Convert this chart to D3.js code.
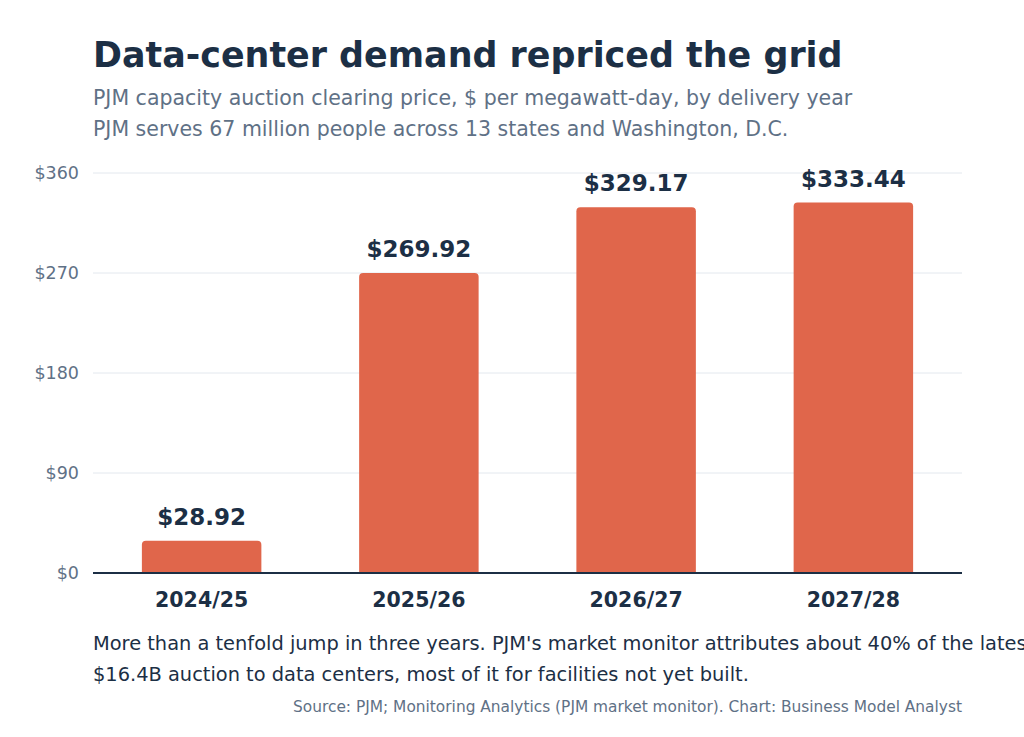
<!DOCTYPE html>
<html>
<head>
<meta charset="utf-8">
<script src="https://cdn.jsdelivr.net/npm/d3@7"></script>
<style>
  body { margin: 0; background: #fff; }
  svg { font-family: "DejaVu Sans", sans-serif; }
</style>
</head>
<body>
<div id="chart"></div>
<script>
const WIDTH = 1024;
const HEIGHT = 737;
const BAR_COLOR = "#e0664b";
const DARK = "#1c2f45";
const MUTED = "#5f7186";

const years = ["2024/25", "2025/26", "2026/27", "2027/28"];
const prices = [28.92, 269.92, 329.17, 333.44];
const yTicks = [0, 90, 180, 270, 360];

const margin = { top: 173, left: 93, right: 62, bottom: 164 };
const innerW = WIDTH - margin.left - margin.right;
const innerH = HEIGHT - margin.top - margin.bottom;

const svg = d3.select("#chart")
    .append("svg")
    .attr("width", WIDTH)
    .attr("height", HEIGHT);

// Heading block
svg.append("text")
    .attr("x", margin.left).attr("y", 67)
    .attr("font-size", 34.9).attr("font-weight", "bold").attr("fill", DARK)
    .text("Data-center demand repriced the grid");

svg.append("text")
    .attr("x", margin.left).attr("y", 105)
    .attr("font-size", 20.5).attr("fill", MUTED)
    .text("PJM capacity auction clearing price, $ per megawatt-day, by delivery year");

svg.append("text")
    .attr("x", margin.left).attr("y", 136)
    .attr("font-size", 20.5).attr("fill", MUTED)
    .text("PJM serves 67 million people across 13 states and Washington, D.C.");

const g = svg.append("g")
    .attr("transform", "translate(" + margin.left + "," + margin.top + ")");

const x = d3.scaleBand().domain(years).range([0, innerW]).paddingInner(0.45).paddingOuter(0.225);
const y = d3.scaleLinear().domain([0, 360]).range([innerH, 0]);

// gridlines
g.selectAll(".grid")
    .data(yTicks.filter(function (d) { return d > 0; }))
    .enter()
    .append("line")
    .attr("x1", 0).attr("x2", innerW)
    .attr("y1", function (d) { return y(d); })
    .attr("y2", function (d) { return y(d); })
    .attr("stroke", "#e3e8ee").attr("stroke-width", 1);

// y axis labels
const yAxis = d3.axisLeft(y).tickValues(yTicks).tickSize(0).tickPadding(14)
    .tickFormat(function (d) { return "$" + d; });
g.append("g").call(yAxis)
    .call(function (sel) { sel.select(".domain").remove(); })
    .selectAll("text")
    .attr("font-family", "DejaVu Sans").attr("font-size", 17.5).attr("fill", MUTED);

// bars with rounded top corners
const r = 4;
g.selectAll(".bar")
    .data(prices)
    .enter()
    .append("path")
    .attr("fill", BAR_COLOR)
    .attr("d", function (d, i) {
        const x0 = x(years[i]), w = x.bandwidth();
        const top = y(d), bot = y(0);
        return "M" + x0 + "," + bot +
            "V" + (top + r) +
            "Q" + x0 + "," + top + " " + (x0 + r) + "," + top +
            "H" + (x0 + w - r) +
            "Q" + (x0 + w) + "," + top + " " + (x0 + w) + "," + (top + r) +
            "V" + bot + "Z";
    });

// value labels
g.selectAll(".val")
    .data(prices)
    .enter()
    .append("text")
    .attr("x", function (d, i) { return x(years[i]) + x.bandwidth() / 2; })
    .attr("y", function (d) { return y(d) - 16; })
    .attr("text-anchor", "middle")
    .attr("font-size", 23).attr("font-weight", "bold").attr("fill", DARK)
    .text(function (d) { return "$" + d.toFixed(2); });

// baseline
g.append("line")
    .attr("x1", 0).attr("x2", innerW)
    .attr("y1", y(0)).attr("y2", y(0))
    .attr("stroke", DARK).attr("stroke-width", 2);

// x axis
const xAxis = d3.axisBottom(x).tickSize(0).tickPadding(19);
g.append("g")
    .attr("transform", "translate(0," + innerH + ")")
    .call(xAxis)
    .call(function (sel) { sel.select(".domain").remove(); })
    .selectAll("text")
    .attr("font-family", "DejaVu Sans").attr("font-size", 20.5)
    .attr("font-weight", "bold").attr("fill", DARK);

// footnote
svg.append("text")
    .attr("x", margin.left).attr("y", 650)
    .attr("font-size", 19.4).attr("fill", DARK)
    .text("More than a tenfold jump in three years. PJM's market monitor attributes about 40% of the latest");
svg.append("text")
    .attr("x", margin.left).attr("y", 681)
    .attr("font-size", 19.4).attr("fill", DARK)
    .text("$16.4B auction to data centers, most of it for facilities not yet built.");

svg.append("text")
    .attr("x", margin.left + innerW).attr("y", 712)
    .attr("text-anchor", "end")
    .attr("font-size", 15.4).attr("fill", MUTED)
    .text("Source: PJM; Monitoring Analytics (PJM market monitor). Chart: Business Model Analyst");
</script>
</body>
</html>
